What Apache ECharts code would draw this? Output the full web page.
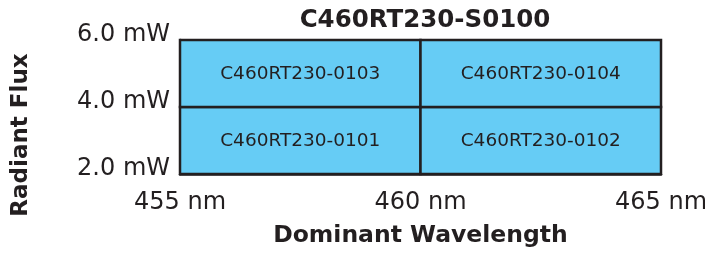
<!DOCTYPE html>
<html>
<head>
<meta charset="utf-8">
<script src="https://cdn.jsdelivr.net/npm/echarts@6/dist/echarts.min.js"></script>
<style>
  html, body { margin: 0; padding: 0; background: #fff; }
  #chart { width: 705px; height: 256px; }
</style>
</head>
<body>
<div id="chart"></div>
<script>
// bins: dominant wavelength (nm) x radiant flux (mW)
const binNames = ['C460RT230-0101', 'C460RT230-0102', 'C460RT230-0103', 'C460RT230-0104']
const wlFrom = [455, 460, 455, 460]
const wlTo = [460, 465, 460, 465]
const fluxFrom = [2, 2, 4, 4]
const fluxTo = [4, 4, 6, 6]
const xTicks = [455, 460, 465]
const yTicks = [2, 4, 6]

const ink = '#231f20'
const font = 'DejaVu Sans'

const chart = echarts.init(document.getElementById('chart'))

const data = binNames.map((n, i) => [wlFrom[i], wlTo[i], fluxFrom[i], fluxTo[i], n])

chart.setOption({
  animation: false,
  title: {
    text: 'C460RT230-S0100',
    left: 420,
    top: 3,
    textAlign: 'center',
    textStyle: { fontFamily: font, fontWeight: 'bold', fontSize: 24.5, color: ink }
  },
  grid: { left: 180, right: 44, top: 40, bottom: 82, outerBoundsMode: 'none', containLabel: false },
  xAxis: {
    type: 'value',
    min: xTicks[0],
    max: xTicks[xTicks.length - 1],
    interval: 5,
    name: 'Dominant Wavelength',
    nameLocation: 'middle',
    nameGap: 50,
    nameTextStyle: { fontFamily: font, fontWeight: 'bold', fontSize: 23.5, color: ink },
    axisLine: { lineStyle: { color: ink, width: 2.5 } },
    axisTick: { show: false },
    splitLine: { show: false },
    axisLabel: {
      margin: 17,
      fontFamily: font, fontSize: 24, color: ink,
      formatter: v => v + ' nm'
    }
  },
  yAxis: {
    type: 'value',
    min: yTicks[0],
    max: yTicks[yTicks.length - 1],
    interval: 2,
    axisLine: { lineStyle: { color: ink, width: 2.5 } },
    axisTick: { show: false },
    splitLine: { show: false },
    axisLabel: {
      margin: 10,
      fontFamily: font, fontSize: 24, color: ink,
      verticalAlign: 'bottom',
      lineHeight: 10,
      formatter: v => v.toFixed(1) + ' mW'
    }
  },
  graphic: [{
    type: 'text',
    x: 21,
    y: 135,
    rotation: Math.PI / 2,
    style: {
      text: 'Radiant Flux',
      font: 'bold 23px "DejaVu Sans"',
      fill: ink,
      textAlign: 'center',
      textVerticalAlign: 'middle'
    }
  }],
  series: [{
    type: 'custom',
    data: data,
    renderItem: (params, api) => {
      const p0 = api.coord([api.value(0), api.value(3)])
      const p1 = api.coord([api.value(1), api.value(2)])
      return {
        type: 'rect',
        shape: { x: p0[0], y: p0[1], width: p1[0] - p0[0], height: p1[1] - p0[1] },
        style: { fill: '#66ccf5', stroke: ink, lineWidth: 2.5 },
        textContent: {
          style: {
            text: api.value(4),
            fontFamily: font,
            fontSize: 18.5,
            fill: ink
          }
        },
        textConfig: { position: 'inside', offset: [0, 1] }
      }
    }
  }]
})
</script>
</body>
</html>
